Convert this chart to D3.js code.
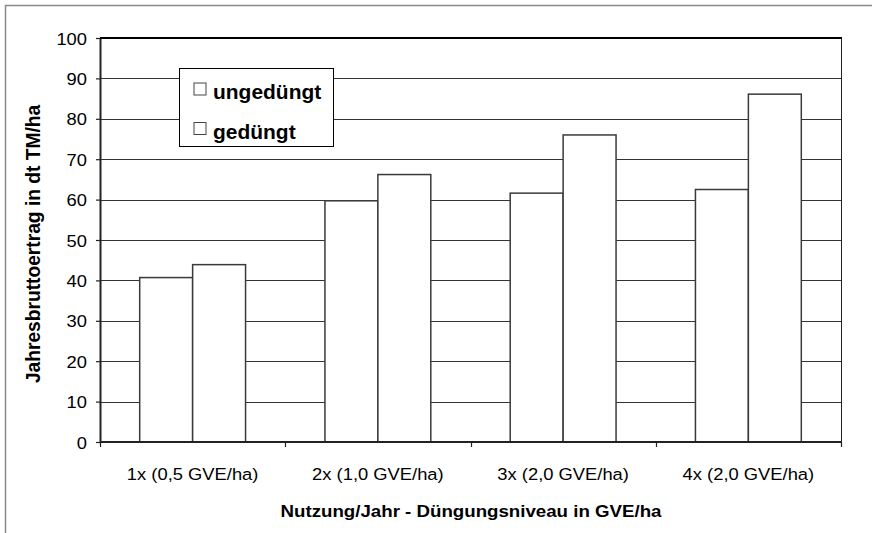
<!DOCTYPE html>
<html>
<head>
<meta charset="utf-8">
<script src="https://cdn.jsdelivr.net/npm/d3@7"></script>
<style>
  html, body { margin: 0; padding: 0; background: #fff; }
  svg { display: block; font-family: "Liberation Sans", Arial, sans-serif; }
</style>
</head>
<body>
<svg id="chart" width="872" height="533"></svg>
<script>
// Jahresbruttoertrag je Nutzungsintensität
const categories = ["1x (0,5 GVE/ha)", "2x (1,0 GVE/ha)", "3x (2,0 GVE/ha)", "4x (2,0 GVE/ha)"];
const seriesNames = ["ungedüngt", "gedüngt"];
const ungeduengt = [40.7, 59.7, 61.6, 62.5];
const geduengt = [43.9, 66.2, 76.0, 86.1];
const yTicks = [0, 10, 20, 30, 40, 50, 60, 70, 80, 90, 100];
const yTitle = "Jahresbruttoertrag in dt TM/ha";
const xTitle = "Nutzung/Jahr - Düngungsniveau in GVE/ha";

const seriesValues = [ungeduengt, geduengt];
const rows = categories.map((c, i) => ({
  cat: c,
  vals: seriesNames.map((s, j) => ({ key: s, value: seriesValues[j][i] }))
}));

const svg = d3.select("#chart");
const plot = { left: 100, right: 841, top: 38, bottom: 442 };
const sx = 1.08; // horizontal glyph stretch

// outer frame (top and left edges)
svg.append("path")
  .attr("d", "M5.5,533 V5.5 H872")
  .attr("fill", "none").attr("stroke", "#8a8a8a").attr("stroke-width", 1.5);

const x0 = d3.scaleBand().domain(categories).range([plot.left, plot.right]).paddingInner(0).paddingOuter(0);
const x1 = d3.scaleBand().domain(seriesNames).range([0, x0.bandwidth()]).paddingInner(0).paddingOuter(0.75);
const y = d3.scaleLinear().domain([0, 100]).range([plot.bottom, plot.top]);

// horizontal gridlines
svg.append("g").selectAll("line")
  .data(yTicks.filter(t => t > 0 && t < 100))
  .join("line")
  .attr("x1", plot.left).attr("x2", plot.right)
  .attr("y1", d => Math.round(y(d)) + 0.5).attr("y2", d => Math.round(y(d)) + 0.5)
  .attr("stroke", "#333").attr("stroke-width", 1);

// plot frame: right edge thin, top edge heavy
svg.append("line").attr("x1", plot.right + 0.5).attr("x2", plot.right + 0.5)
  .attr("y1", plot.top).attr("y2", plot.bottom)
  .attr("stroke", "#222").attr("stroke-width", 1);
svg.append("line").attr("x1", plot.left).attr("x2", plot.right + 1)
  .attr("y1", plot.top).attr("y2", plot.top)
  .attr("stroke", "#000").attr("stroke-width", 2);

// bars
const groups = svg.append("g").selectAll("g")
  .data(rows).join("g")
  .attr("transform", d => `translate(${x0(d.cat)},0)`);
groups.selectAll("rect")
  .data(d => d.vals).join("rect")
  .attr("x", d => x1(d.key))
  .attr("width", x1.bandwidth())
  .attr("y", d => y(d.value))
  .attr("height", d => y(0) - y(d.value))
  .attr("fill", "#fff")
  .attr("stroke", "#3a3a3a")
  .attr("stroke-width", 1.5);

// y axis
const yAxis = svg.append("g").attr("transform", `translate(${plot.left},0)`)
  .call(d3.axisLeft(y).tickValues(yTicks).tickSize(4).tickPadding(9).tickSizeOuter(0));
yAxis.select(".domain").attr("stroke", "#222").attr("stroke-width", 2);
yAxis.selectAll(".tick line").attr("stroke", "#222").attr("stroke-width", 1.2);
yAxis.selectAll(".tick text")
  .attr("font-size", 17).attr("fill", "#000")
  .attr("font-family", "Liberation Sans, Arial, sans-serif")
  .attr("transform", function () { const xx = +d3.select(this).attr("x"); return `translate(${xx * (1 - sx)},0) scale(${sx},1)`; })
  .attr("dy", "0.36em");

// x axis with ticks on category boundaries
const xAxisG = svg.append("g").attr("transform", `translate(0,${plot.bottom})`);
xAxisG.append("line").attr("x1", plot.left).attr("x2", plot.right + 1)
  .attr("y1", 0).attr("y2", 0).attr("stroke", "#222").attr("stroke-width", 2);
const bounds = categories.map(c => x0(c)).concat([plot.right]);
xAxisG.selectAll("line.tk").data(bounds).join("line").attr("class", "tk")
  .attr("x1", d => Math.round(d) + 0.5).attr("x2", d => Math.round(d) + 0.5)
  .attr("y1", 0).attr("y2", 5).attr("stroke", "#222").attr("stroke-width", 1.2);
xAxisG.selectAll("text").data(categories).join("text")
  .attr("transform", d => `translate(${x0(d) + x0.bandwidth() / 2},37.5) scale(${sx},1)`)
  .attr("text-anchor", "middle")
  .attr("font-size", 17).attr("fill", "#000")
  .text(d => d);

// axis titles
svg.append("text")
  .attr("transform", `translate(${(plot.left + plot.right) / 2 + 0.5},517) scale(${sx},1)`)
  .attr("text-anchor", "middle").attr("font-size", 17.3).attr("font-weight", "bold")
  .text(xTitle);
svg.append("text")
  .attr("transform", `translate(40,244) rotate(-90) scale(1,${sx})`)
  .attr("text-anchor", "middle").attr("font-size", 19.2).attr("font-weight", "bold")
  .text(yTitle);

// legend
const legend = svg.append("g").attr("transform", "translate(179.5,68.5)");
legend.append("rect").attr("width", 154).attr("height", 78)
  .attr("fill", "#fff").attr("stroke", "#000").attr("stroke-width", 1);
const li = legend.selectAll("g").data(seriesNames).join("g")
  .attr("transform", (d, i) => `translate(0,${i * 39.5})`);
li.append("rect").attr("x", 14.5).attr("y", 14.5).attr("width", 12).attr("height", 12)
  .attr("fill", "#fff").attr("stroke", "#444").attr("stroke-width", 1);
li.append("text")
  .attr("transform", `translate(33.5,30.8) scale(${sx},1)`)
  .attr("font-size", 19.4).attr("font-weight", "bold").attr("fill", "#000")
  .text(d => d);
</script>
</body>
</html>
